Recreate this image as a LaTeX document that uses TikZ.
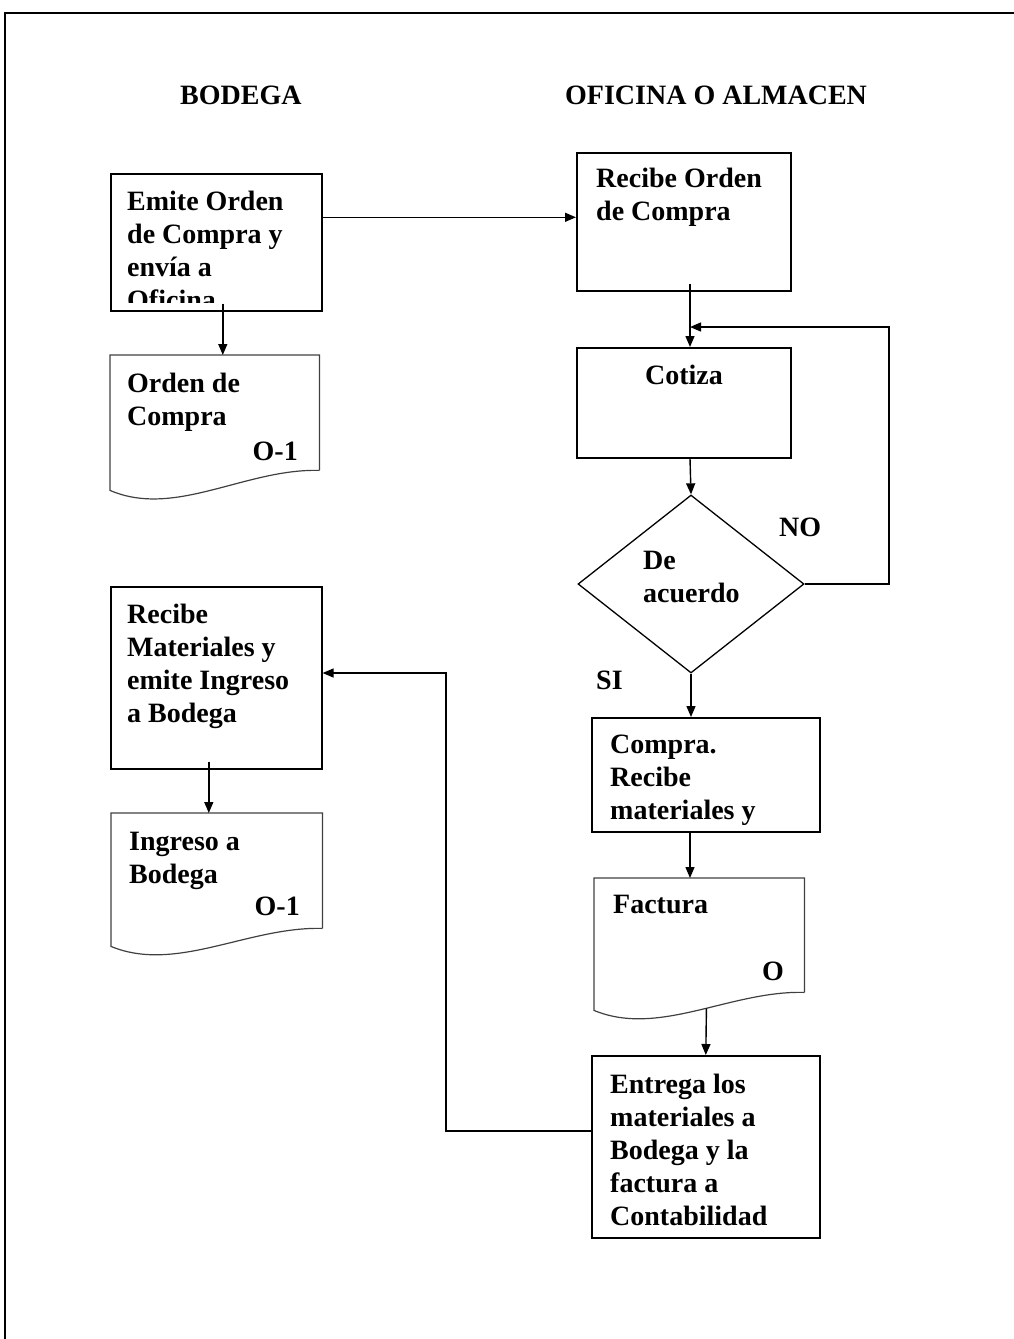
\documentclass[tikz,border=0pt]{standalone}
\usepackage{fontspec}
\setmainfont{Liberation Serif}
\usetikzlibrary{arrows.meta,shapes.geometric}
% stacked left-aligned lines whose baseline is the first line
\newcommand\stk[1]{\vtop{\halign{##\hfil\cr#1\crcr}}}
\begin{document}
\begin{tikzpicture}[x=1pt,y=-1pt,
  box/.style={draw, line width=1.6pt, inner sep=0, anchor=north west},
  docarea/.style={inner sep=0, anchor=north west},
  docline/.style={line width=1.2pt, draw=black!75},
  txt/.style={inner sep=0, anchor=base west, font=\fontsize{28}{33}\selectfont\bfseries},
  arr/.style={line width=1.4pt, -{Triangle[length=11pt,width=9pt]}},
  flow/.style={line width=1.4pt}
]
\useasboundingbox (0,0) rectangle (1014,1339);
% outer frame
\draw[line width=2pt] (1014,13) -- (5,13) -- (5,1339);

% column titles
\node[txt] (ttlbod) at (180,104) {BODEGA};
\node[txt] (ttlofi) at (565,104) {OFICINA O ALMACEN};

% ---- BODEGA column ----
\node[box, minimum width=211pt, minimum height=137pt] (emite) at (110,173) {};
\begin{scope}
  \clip (110,173) rectangle (321,302);
  \node[txt] (emitetxt) at (127,210) {\stk{Emite Orden\cr de Compra y\cr envía a\cr Oficina}};
\end{scope}

\node[docarea, minimum width=209pt, minimum height=115pt] (ordendoc) at (110,355) {};
\draw[docline] (ordendoc.south east) -- (ordendoc.north east) -- (ordendoc.north west)
  -- ([yshift=-20pt]ordendoc.south west) .. controls +(65,28) and +(-74,-2) .. (ordendoc.south east);
\node[txt] (ordentxt) at (127,392) {\stk{Orden de\cr Compra}};
\node[txt, anchor=base east] (ordennum) at (298,460) {O-1};

\node[box, minimum width=211pt, minimum height=182pt] (recibemat) at (110,586) {};
\node[txt] (recibemattxt) at (127,623) {\stk{Recibe\cr Materiales y\cr emite Ingreso\cr a Bodega}};

\node[docarea, minimum width=211pt, minimum height=115pt] (ingresodoc) at (111,813) {};
\draw[docline] (ingresodoc.south east) -- (ingresodoc.north east) -- (ingresodoc.north west)
  -- ([yshift=-18pt]ingresodoc.south west) .. controls +(65,27) and +(-74,-2) .. (ingresodoc.south east);
\node[txt] (ingresotxt) at (129,850) {\stk{Ingreso a\cr Bodega}};
\node[txt, anchor=base east] (ingresonum) at (300,915) {O-1};

% ---- OFICINA column ----
\coordinate (spine) at (690,0);
\node[box, minimum width=214pt, minimum height=138pt] (recibeoc) at (576,152) {};
\node[txt] (recibeoctxt) at (596,187) {\stk{Recibe Orden\cr de Compra}};

\node[box, minimum width=214pt, minimum height=110pt] (cotiza) at (576,347) {};
\node[txt, anchor=base] (cotizatxt) at (684,384) {Cotiza};

\node[draw, line width=1.3pt, shape=diamond, inner sep=0, minimum width=226pt, minimum height=178pt] (acuerdo) at (691,584) {};
\node[txt] (acuerdotxt) at (643,569) {\stk{De\cr acuerdo}};
\node[txt] (nolbl) at (779,536) {NO};
\node[txt] (silbl) at (596,689) {SI};

\node[box, minimum width=228pt, minimum height=114pt] (compra) at (591,717) {};
\node[txt] (compratxt) at (610,753) {\stk{Compra.\cr Recibe\cr materiales y}};

\node[docarea, minimum width=210pt, minimum height=114pt] (facturadoc) at (594,878) {};
\draw[docline] (facturadoc.south east) -- (facturadoc.north east) -- (facturadoc.north west)
  -- ([yshift=-18pt]facturadoc.south west) .. controls +(65,27) and +(-74,-2) .. coordinate[pos=0.55] (facwave) (facturadoc.south east);
\node[txt] (facturatxt) at (613,913) {Factura};
\node[txt, anchor=base east] (facturanum) at (784,980) {O};

\node[box, minimum width=228pt, minimum height=182pt] (entrega) at (591,1055) {};
\node[txt] (entregatxt) at (610,1093) {\stk{Entrega los\cr materiales a\cr Bodega y la\cr factura a\cr Contabilidad}};

% ---- connectors ----
\draw[arr] ([yshift=25pt]emite.east) -- ([yshift=25pt]emite.east -| recibeoc.west);
\draw[arr] ([xshift=6.5pt,yshift=8pt]emite.south) -- ([xshift=6.5pt]emite.south |- ordendoc.north);
\draw[arr] ([yshift=8pt]recibeoc.south -| spine) -- (cotiza.north -| spine);
\draw[arr] (cotiza.south -| spine) -- (acuerdo.north);
\coordinate (loopright) at (889,327);
\draw[arr] (acuerdo.east) -| (loopright) -- (loopright -| spine);
\draw[arr] (acuerdo.south) -- (compra.north -| acuerdo.south);
\draw[arr] (compra.south -| spine) -- (facturadoc.north -| spine);
\draw[arr] (facwave) -- (entrega.north);
\coordinate (backturn) at (446,673);
\draw[arr] ([yshift=16pt]entrega.west) -| (backturn) -- (backturn -| recibemat.east);
\draw[arr] ([xshift=-7.5pt,yshift=8pt]recibemat.south) -- ([xshift=-7.5pt]recibemat.south |- ingresodoc.north);
\end{tikzpicture}
\end{document}
